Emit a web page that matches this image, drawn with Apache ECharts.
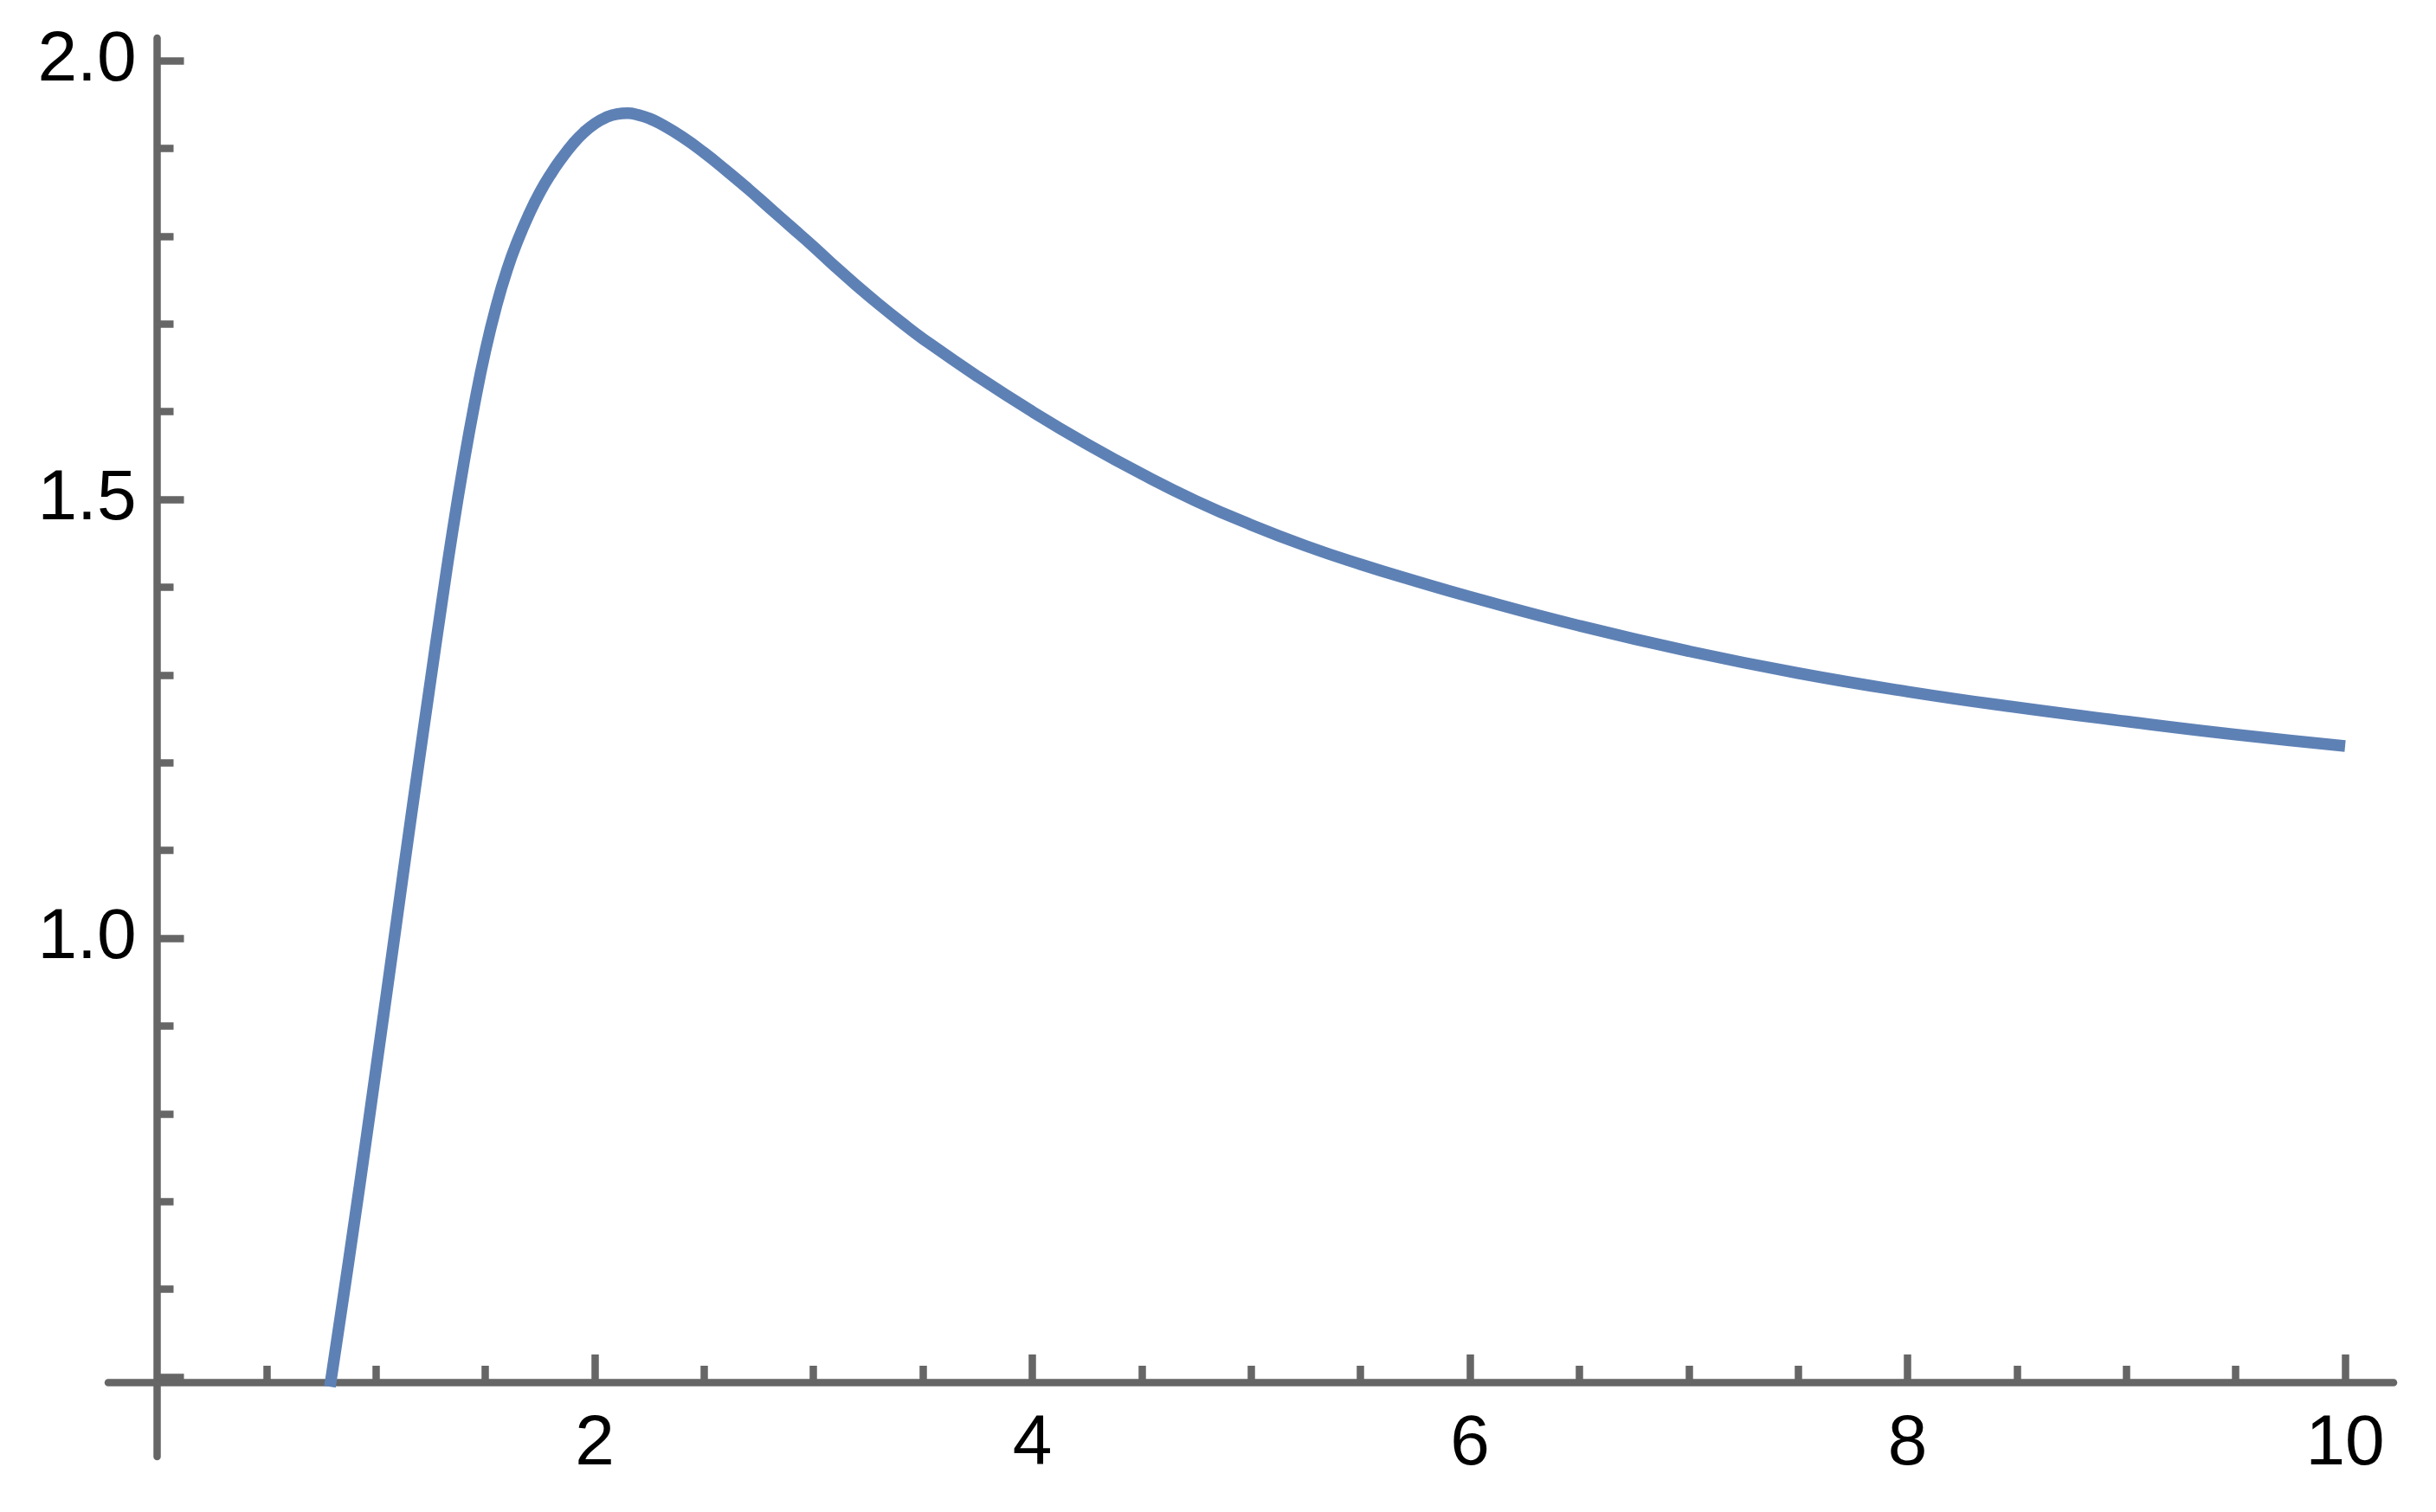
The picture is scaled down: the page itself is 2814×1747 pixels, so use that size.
<!DOCTYPE html>
<html>
<head>
<meta charset="utf-8">
<script src="https://cdn.jsdelivr.net/npm/echarts@6/dist/echarts.min.js"></script>
<style>
html,body{margin:0;padding:0;background:#fff;}
#chart{width:2814px;height:1747px;}
</style>
</head>
<body>
<div id="chart"></div>
<script>
// Curve samples
var xValues = [0.79, 0.85, 0.90, 0.95, 1.00, 1.05, 1.10, 1.15, 1.20, 1.25, 1.30, 1.35, 1.40, 1.45, 1.50, 1.55, 1.60, 1.65, 1.70, 1.75, 1.80, 1.85, 1.90, 1.95, 2.00, 2.05, 2.10, 2.15, 2.20, 2.25, 2.30, 2.40, 2.50, 2.60, 2.70, 2.80, 2.90, 3.00, 3.10, 3.20, 3.30, 3.40, 3.50, 3.75, 4.00, 4.25, 4.50, 4.75, 5.00, 5.25, 5.50, 5.75, 6.00, 6.50, 7.00, 7.50, 8.00, 8.50, 9.00, 9.50, 10.00];
var yValues = [0.489, 0.589, 0.674, 0.761, 0.850, 0.939, 1.029, 1.119, 1.207, 1.294, 1.380, 1.463, 1.539, 1.608, 1.669, 1.720, 1.762, 1.796, 1.825, 1.850, 1.871, 1.889, 1.905, 1.918, 1.928, 1.935, 1.939, 1.940, 1.938, 1.934, 1.928, 1.913, 1.895, 1.875, 1.854, 1.832, 1.810, 1.788, 1.765, 1.743, 1.722, 1.702, 1.683, 1.640, 1.600, 1.563, 1.529, 1.498, 1.471, 1.447, 1.426, 1.407, 1.389, 1.356, 1.327, 1.302, 1.281, 1.263, 1.247, 1.232, 1.219];

// Tick positions and labels
var xMajorTicks = [2, 4, 6, 8, 10];
var xMinorTicks = [0.5, 1, 1.5, 2.5, 3, 3.5, 4.5, 5, 5.5, 6.5, 7, 7.5, 8.5, 9, 9.5];
var yMajorTicks = [0.5, 1.0, 1.5, 2.0];
var yLabelTicks = [1.0, 1.5, 2.0];
var yMinorTicks = [0.6, 0.7, 0.8, 0.9, 1.1, 1.2, 1.3, 1.4, 1.6, 1.7, 1.8, 1.9];

var seriesData = xValues.map(function (x, i) { return [x, yValues[i]]; });

var AXIS_COLOR = '#666666';
var AXIS_W = 8.5;
var FONT = 'Liberation Sans, Arial, Helvetica, sans-serif';

var chart = echarts.init(document.getElementById('chart'), null, {renderer: 'canvas'});
chart.setOption({
  animation: false,
  backgroundColor: '#ffffff',
  grid: {left: 125, top: 44, width: 2640, height: 1639, containLabel: false, outerBoundsMode: 'none'},
  xAxis: [
    {
      type: 'value', min: -0.2235, max: 10.2215, position: 'bottom', offset: -86,
      axisLine: {show: true, onZero: false, lineStyle: {color: AXIS_COLOR, width: AXIS_W}},
      axisTick: {show: true, inside: true, length: 32, customValues: xMajorTicks, lineStyle: {color: AXIS_COLOR, width: AXIS_W}},
      axisLabel: {show: true, customValues: xMajorTicks, margin: 31, fontSize: 82, fontFamily: FONT, color: '#000000',
        formatter: function (v) { return String(Math.round(v)); }},
      splitLine: {show: false}
    },
    {
      type: 'value', min: -0.2235, max: 10.2215, position: 'bottom', offset: -86,
      axisLine: {show: false, onZero: false},
      axisTick: {show: true, inside: true, length: 19, customValues: xMinorTicks, lineStyle: {color: AXIS_COLOR, width: AXIS_W}},
      axisLabel: {show: false},
      splitLine: {show: false}
    }
  ],
  yAxis: [
    {
      type: 'value', min: 0.4093, max: 2.0256, position: 'left', offset: -56.5,
      axisLine: {show: true, onZero: false, lineStyle: {color: AXIS_COLOR, width: AXIS_W}},
      axisTick: {show: true, inside: true, length: 31, customValues: yMajorTicks, lineStyle: {color: AXIS_COLOR, width: AXIS_W}},
      axisLabel: {show: true, customValues: yLabelTicks, margin: 24, fontSize: 82, fontFamily: FONT, color: '#000000',
        formatter: function (v) { return v.toFixed(1); }},
      splitLine: {show: false}
    },
    {
      type: 'value', min: 0.4093, max: 2.0256, position: 'left', offset: -56.5,
      axisLine: {show: false, onZero: false},
      axisTick: {show: true, inside: true, length: 19, customValues: yMinorTicks, lineStyle: {color: AXIS_COLOR, width: AXIS_W}},
      axisLabel: {show: false},
      splitLine: {show: false}
    }
  ],
  series: [{
    type: 'line',
    xAxisIndex: 0,
    yAxisIndex: 0,
    data: seriesData,
    smooth: 0.5,
    showSymbol: false,
    symbol: 'none',
    clip: false,
    lineStyle: {color: '#5E81B5', width: 13.5, cap: 'butt', join: 'round'},
    z: 5
  }]
});
</script>
</body>
</html>
